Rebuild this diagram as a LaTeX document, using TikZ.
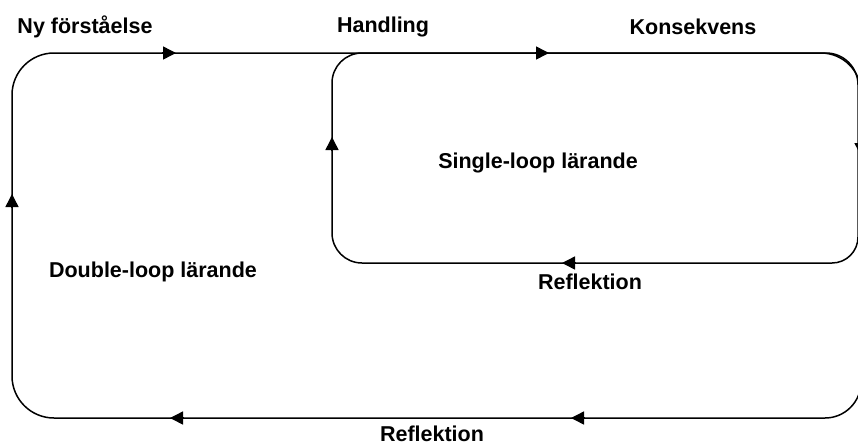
\documentclass[tikz,border=0pt]{standalone}
\usepackage{fontspec}
\setmainfont{Liberation Sans}
\usetikzlibrary{arrows.meta,calc}
\begin{document}
\begin{tikzpicture}[x=1pt,y=-1pt,
  loopline/.style={line width=1.5pt, line join=round},
  arr/.style={line width=1.5pt, -{Triangle[length=13pt,width=13pt]}},
  lbl/.style={font=\bfseries\fontsize{21.5}{24}\selectfont, inner sep=0pt}]
\clip (0,0) rectangle (858,445);
\fill[white] (0,0) rectangle (858,445);
% outer loop corners
\coordinate (OTL) at (12,53);
\coordinate (OTR) at (861,53);
\coordinate (OBR) at (861,418);
\coordinate (OBL) at (12,418);
% inner loop corners
\coordinate (ITL) at (332,53);
\coordinate (ITR) at (858,53);
\coordinate (IBR) at (858,263);
\coordinate (IBL) at (332,263);
% outer loop
\draw[loopline] (12,300) [rounded corners=42pt] -- (OTL) [rounded corners=40pt] -- (OTR)
  [rounded corners=36pt] -- (OBR) [rounded corners=42pt] -- (OBL) [sharp corners] -- cycle;
% inner loop
\draw[loopline] (332,200) [rounded corners=30pt] -- (ITL) [rounded corners=32pt] -- (ITR)
  [rounded corners=26pt] -- (IBR) [rounded corners=30pt] -- (IBL) [sharp corners] -- cycle;
% arrow tips
\coordinate (a1) at (176,53);
\coordinate (a2) at (549,53);
\coordinate (a3) at (861,156);
\coordinate (a4) at (562,263);
\coordinate (a5) at (332,137);
\coordinate (a6) at (571,418);
\coordinate (a7) at (170,418);
\coordinate (a8) at (12,194);
\draw[arr] ($(a1)+(-14,0)$) -- (a1);
\draw[arr] ($(a2)+(-14,0)$) -- (a2);
\draw[arr] ($(a3)+(0,-14)$) -- (a3);
\draw[arr] ($(a4)+(14,0)$) -- (a4);
\draw[arr] ($(a5)+(0,14)$) -- (a5);
\draw[arr] ($(a6)+(14,0)$) -- (a6);
\draw[arr] ($(a7)+(14,0)$) -- (a7);
\draw[arr] ($(a8)+(0,14)$) -- (a8);
% labels
\node[lbl] (ny) at (85,27) {Ny förståelse};
\node[lbl] (handling) at (383,27) {Handling};
\node[lbl] (kons) at (693,27) {Konsekvens};
\node[lbl] (single) at (538,163) {Single-loop lärande};
\node[lbl] (double) at (153,272) {Double-loop lärande};
\node[lbl] (refl1) at (590,282) {Reflektion};
\node[lbl] (refl2) at (432,434) {Reflektion};
\end{tikzpicture}
\end{document}
